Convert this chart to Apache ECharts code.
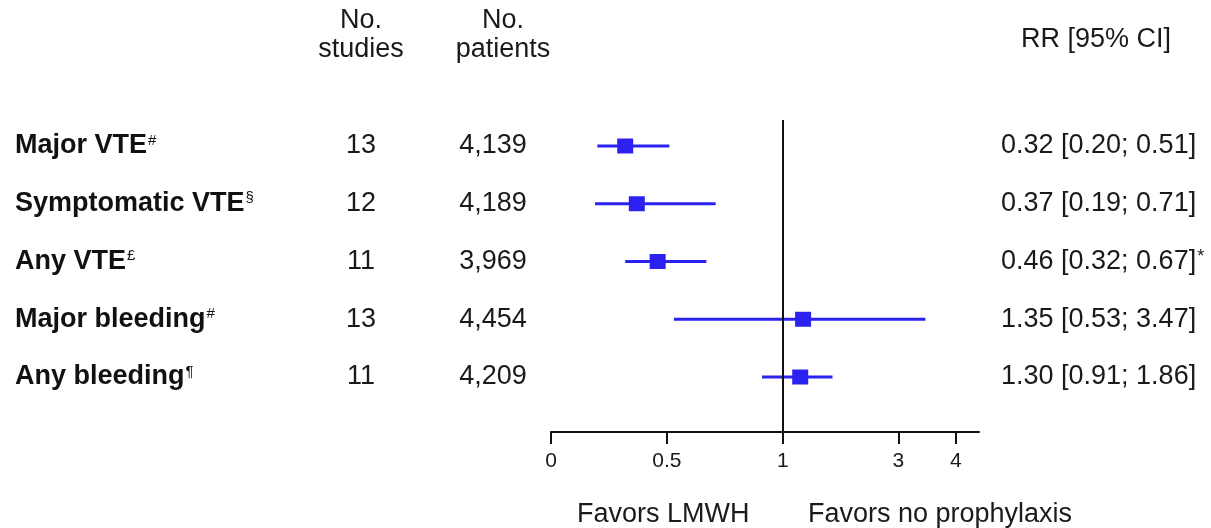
<!DOCTYPE html>
<html>
<head>
<meta charset="utf-8">
<script src="https://cdn.jsdelivr.net/npm/echarts@6/dist/echarts.min.js"></script>
<style>
  html, body { margin: 0; padding: 0; background: #fff; }
  #chart { width: 1211px; height: 528px; }
</style>
</head>
<body>
<div id="chart"></div>
<script>
// ---- data ----
const categories = ['Major VTE', 'Symptomatic VTE', 'Any VTE', 'Major bleeding', 'Any bleeding'];
const superscripts = ['#', '§', '£', '#', '¶'];
const nStudies = [13, 12, 11, 13, 11];
const nPatients = [4139, 4189, 3969, 4454, 4209];
const rr = [0.32, 0.37, 0.46, 1.35, 1.30];
const ciLow = [0.20, 0.19, 0.32, 0.53, 0.91];
const ciHigh = [0.51, 0.71, 0.67, 3.47, 1.86];
const rrNotes = ['', '', '*', '', ''];
const tickValues = [0, 0.5, 1, 3, 4];
const axisMaxValue = 4.4;

// ---- broken (two-segment) scale: linear 0..1, compressed linear above 1 ----
const COMPRESS = 0.2487;
function pos(v) { return v <= 1 ? v : 1 + (v - 1) * COMPRESS; }
const tickPos = tickValues.map(pos);

const FONT = "'Liberation Sans', Arial, Helvetica, sans-serif";
const BLUE = '#2b22f2';
const TXT = '#1a1a1a';
const FS = 27;

const chart = echarts.init(document.getElementById('chart'), null, { renderer: 'canvas' });

const markData = rr.map((v, i) => [pos(v), i, pos(ciLow[i]), pos(ciHigh[i])]);
const textData = categories.map((c, i) => [0, i]);

function fmt2(v) { return v.toFixed(2); }

const option = {
  animation: false,
  backgroundColor: '#fff',
  textStyle: { fontFamily: FONT },
  grid: { left: 551, right: 232, top: 120, bottom: 96 },
  xAxis: {
    type: 'value',
    min: 0,
    max: pos(axisMaxValue),
    axisLine: { show: true, onZero: false, lineStyle: { color: '#111', width: 2 } },
    axisTick: { show: true, customValues: tickPos, length: 12, lineStyle: { color: '#111', width: 2 } },
    axisLabel: {
      customValues: tickPos,
      formatter: function (v) {
        const i = tickPos.findIndex(p => Math.abs(p - v) < 1e-6);
        return i >= 0 ? String(tickValues[i]) : '';
      },
      fontSize: 21, color: TXT, margin: 19, fontFamily: FONT
    },
    splitLine: { show: false }
  },
  yAxis: {
    type: 'value',
    inverse: true,
    min: -0.45,
    max: 4.952,
    show: false
  },
  series: [
    {
      type: 'custom',
      clip: false,
      z: 2,
      data: markData,
      encode: { x: [0, 2, 3], y: 1 },
      renderItem: function (params, api) {
        const c = api.coord([api.value(0), api.value(1)]);
        const l = api.coord([api.value(2), api.value(1)]);
        const h = api.coord([api.value(3), api.value(1)]);
        return {
          type: 'group',
          children: [
            { type: 'line', shape: { x1: l[0], y1: c[1], x2: h[0], y2: c[1] }, style: { stroke: BLUE, lineWidth: 3 } },
            { type: 'rect', shape: { x: c[0] - 8, y: c[1] - 7.5, width: 16, height: 15 }, style: { fill: BLUE } }
          ]
        };
      }
    },
    {
      type: 'line',
      data: [],
      z: 5,
      markLine: {
        silent: true,
        symbol: ['none', 'none'],
        label: { show: false },
        lineStyle: { color: '#111', width: 2, type: 'solid' },
        data: [{ xAxis: pos(1) }]
      }
    },
    {
      type: 'custom',
      clip: false,
      z: 3,
      data: textData,
      encode: { x: 0, y: 1 },
      renderItem: function (params, api) {
        const i = params.dataIndex;
        const y = api.coord([0, api.value(1)])[1];
        const rrText = fmt2(rr[i]) + ' [' + fmt2(ciLow[i]) + '; ' + fmt2(ciHigh[i]) + ']';
        return {
          type: 'group',
          children: [
            {
              type: 'text',
              style: {
                x: 15, y: y,
                text: '{b|' + categories[i] + '}{s|' + superscripts[i] + '}',
                align: 'left', verticalAlign: 'middle',
                rich: {
                  b: { fontSize: FS, fontWeight: 'bold', fontFamily: FONT, fill: '#111', lineHeight: 30 },
                  s: { fontSize: 15, fontFamily: FONT, fill: '#111', lineHeight: 30, verticalAlign: 'top', padding: [2, 0, 0, 1] }
                }
              }
            },
            {
              type: 'text',
              style: { x: 361, y: y, text: String(nStudies[i]), align: 'center', verticalAlign: 'middle', fontSize: FS, fontFamily: FONT, fill: TXT }
            },
            {
              type: 'text',
              style: { x: 493, y: y, text: nPatients[i].toLocaleString('en-US'), align: 'center', verticalAlign: 'middle', fontSize: FS, fontFamily: FONT, fill: TXT }
            },
            {
              type: 'text',
              style: {
                x: 1001, y: y,
                text: '{r|' + rrText + '}' + (rrNotes[i] ? '{s|' + rrNotes[i] + '}' : ''),
                align: 'left', verticalAlign: 'middle',
                rich: {
                  r: { fontSize: FS, fontFamily: FONT, fill: TXT, lineHeight: 30 },
                  s: { fontSize: 18, fontFamily: FONT, fill: TXT, lineHeight: 30, verticalAlign: 'top', padding: [2, 0, 0, 1] }
                }
              }
            }
          ]
        };
      }
    }
  ],
  graphic: [
    { type: 'text', style: { x: 361, y: 35, text: 'No.\nstudies', align: 'center', verticalAlign: 'middle', fontSize: FS, lineHeight: 29, fontFamily: FONT, fill: TXT } },
    { type: 'text', style: { x: 503, y: 35, text: 'No.\npatients', align: 'center', verticalAlign: 'middle', fontSize: FS, lineHeight: 29, fontFamily: FONT, fill: TXT } },
    { type: 'text', style: { x: 1096, y: 40, text: 'RR [95% CI]', align: 'center', verticalAlign: 'middle', fontSize: FS, fontFamily: FONT, fill: TXT } },
    { type: 'text', style: { x: 577, y: 515, text: 'Favors LMWH', align: 'left', verticalAlign: 'middle', fontSize: FS, fontFamily: FONT, fill: TXT } },
    { type: 'text', style: { x: 808, y: 515, text: 'Favors no prophylaxis', align: 'left', verticalAlign: 'middle', fontSize: FS, fontFamily: FONT, fill: TXT } }
  ]
};

chart.setOption(option);
</script>
</body>
</html>
